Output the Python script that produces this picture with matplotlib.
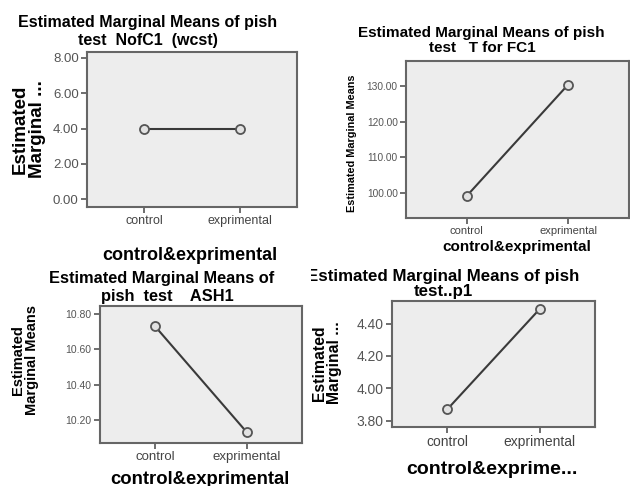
import matplotlib
matplotlib.use('Agg')
import matplotlib.pyplot as plt

W, H = 630, 486

# Data
groups = ['control', 'exprimental']
nofc1_means = [4.0, 4.0]
tfc1_means = [99.2, 130.4]
ash1_means = [10.73, 10.13]
p1_means = [3.87, 4.49]

nofc1_ticks = [0, 2, 4, 6, 8]
tfc1_ticks = [100, 110, 120, 130]
ash1_ticks = [10.2, 10.4, 10.6, 10.8]
p1_ticks = [3.8, 4.0, 4.2, 4.4]

plt.rcParams['font.family'] = ['Liberation Sans', 'DejaVu Sans']

fig = plt.figure(figsize=(W / 100, H / 100), dpi=100)
fig.patch.set_facecolor('white')


def box(l, t, r, b):
    return [l / W, 1 - b / H, (r - l) / W, (b - t) / H]


def fx(x):
    return x / W


def fy(y):
    return 1 - y / H


def panel(rect, values, ticks, ylim, ysize, xsize):
    ax = fig.add_axes(box(*rect))
    ax.set_facecolor('#ededed')
    ax.plot([0, 1], values, color='#3a3a3a', lw=1.5, marker='o', ms=6.5,
            mfc='#e2e2e2', mec='#555555', mew=1.3)
    ax.set_xlim(-0.6, 1.6)
    ax.set_ylim(*ylim)
    ax.set_xticks([0, 1])
    ax.set_xticklabels(groups, fontsize=xsize, color='#444444')
    ax.set_yticks(ticks)
    ax.set_yticklabels(['%.2f' % t for t in ticks], fontsize=ysize, color='#555555')
    ax.tick_params(length=4, width=1.2, color='#555555', pad=2)
    for s in ax.spines.values():
        s.set_color('#666666')
        s.set_linewidth(1.5)
    return ax


# top-left
panel((87, 52, 297, 207), nofc1_means, nofc1_ticks, (-0.45, 8.34), 9.5, 9)
fig.text(fx(148), fy(23), 'Estimated Marginal Means of pish', ha='center', va='center',
         fontsize=11.5, fontweight='bold')
fig.text(fx(148), fy(41), 'test  NofC1  (wcst)', ha='center', va='center',
         fontsize=11.5, fontweight='bold')
fig.text(fx(29), fy(129), 'Estimated\nMarginal ...', rotation=90, ha='center', va='center',
         fontsize=13.5, fontweight='bold', linespacing=1.05)
fig.text(fx(190), fy(255), 'control&exprimental', ha='center', va='center',
         fontsize=13, fontweight='bold')

# top-right
panel((406, 61, 629, 218), tfc1_means, tfc1_ticks, (93, 137), 7.3, 8)
fig.text(fx(481), fy(33), 'Estimated Marginal Means of pish', ha='center', va='center',
         fontsize=11, fontweight='bold')
fig.text(fx(482), fy(48), 'test   T for FC1', ha='center', va='center',
         fontsize=11, fontweight='bold')
fig.text(fx(352), fy(143), 'Estimated Marginal Means', rotation=90, ha='center', va='center',
         fontsize=7.8, fontweight='bold')
fig.text(fx(517), fy(247), 'control&exprimental', ha='center', va='center',
         fontsize=11, fontweight='bold')

# bottom-left
panel((100, 306, 302, 443), ash1_means, ash1_ticks, (10.07, 10.845), 7.5, 9.5)
fig.text(fx(162), fy(279), 'Estimated Marginal Means of', ha='center', va='center',
         fontsize=11.8, fontweight='bold')
fig.text(fx(167), fy(296), 'pish  test    ASH1', ha='center', va='center',
         fontsize=11.8, fontweight='bold')
fig.text(fx(25), fy(360), 'Estimated\nMarginal Means', rotation=90, ha='center', va='center',
         fontsize=10.5, fontweight='bold', linespacing=0.95)
fig.text(fx(200), fy(479), 'control&exprimental', ha='center', va='center',
         fontsize=13.3, fontweight='bold')

# bottom-right (left edge of this screenshot is cut off)
panel((392, 301, 595, 427), p1_means, p1_ticks, (3.76, 4.54), 10, 10)
clip = fig.add_axes(box(311, 243, 630, 486))
clip.axis('off')
clip.set_xlim(311, 630)
clip.set_ylim(486, 243)
clip.text(443, 276, 'Estimated Marginal Means of pish', ha='center', va='center',
          fontsize=12.2, fontweight='bold', clip_on=True)
clip.text(443, 291, 'test..p1', ha='center', va='center',
          fontsize=12.2, fontweight='bold', clip_on=True)
fig.text(fx(327), fy(363), 'Estimated\nMarginal ...', rotation=90, ha='center', va='center',
         fontsize=11.3, fontweight='bold', linespacing=1.0)
fig.text(fx(492), fy(469), 'control&exprime...', ha='center', va='center',
         fontsize=14, fontweight='bold')

fig.savefig('out.png', dpi=100)
